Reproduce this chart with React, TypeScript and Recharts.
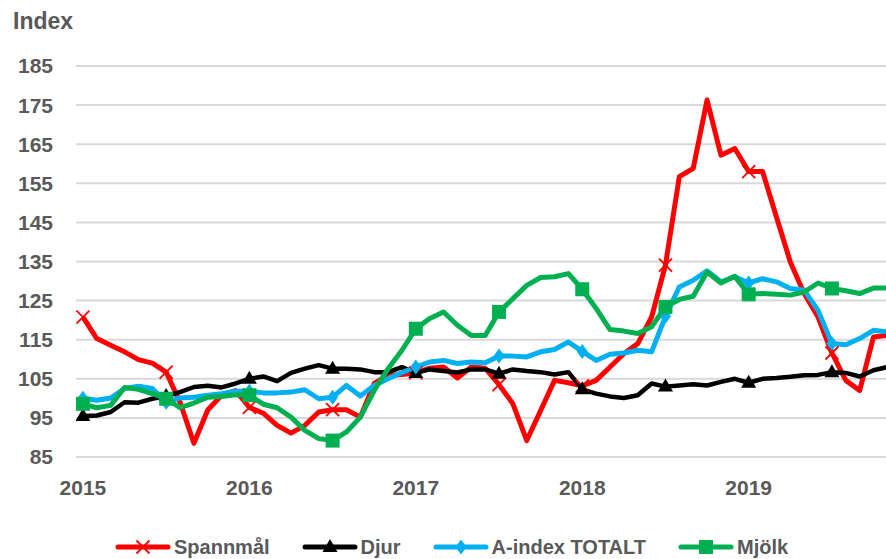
import React from 'react';
import { LineChart, Line, XAxis, YAxis, CartesianGrid, Legend } from 'recharts';

// tick labels
const years = ['2015', '2016', '2017', '2018', '2019'];
const yTicks = [85, 95, 105, 115, 125, 135, 145, 155, 165, 175, 185];

// monthly categories, Jan 2015 .. Nov 2019
const months: string[] = [];
years.forEach((y) => {
  for (let m = 1; m <= 12; m++) months.push(`${y}-${String(m).padStart(2, '0')}`);
});
months.splice(59);

// series values (index)
const spannmal = [
  120.8, 115.3, 113.6, 111.9, 109.9, 109.0, 106.7, 99.0, 88.5, 97.0, 100.8, 102.0,
  97.7, 96.2, 93.1, 91.1, 93.1, 96.5, 97.1, 97.1, 95.2, 103.8, 105.9, 106.1,
  106.5, 107.7, 108.0, 105.2, 108.0, 107.7, 103.5, 98.6, 89.2, 96.9, 104.6, 104.0,
  103.2, 104.6, 108.0, 111.4, 114.0, 120.8, 134.1, 156.7, 158.8, 176.3, 162.2, 163.9,
  158.0, 158.0, 146.4, 134.9, 126.8, 120.8, 111.6, 104.6, 102.0, 115.7, 116.1,
];
const djur = [
  95.5, 95.6, 96.5, 99.0, 98.9, 99.9, 100.6, 101.6, 102.9, 103.2, 102.8, 103.8,
  105.0, 105.6, 104.4, 106.5, 107.6, 108.5, 107.6, 107.6, 107.4, 106.7, 106.7, 108.0,
  106.5, 107.4, 107.0, 106.6, 107.4, 107.4, 106.3, 107.4, 107.0, 106.7, 106.1, 106.7,
  102.3, 101.2, 100.5, 100.1, 100.8, 103.8, 103.0, 103.3, 103.6, 103.3, 104.2, 105.0,
  104.0, 105.0, 105.2, 105.5, 105.9, 106.0, 106.7, 106.5, 105.6, 107.2, 108.0,
];
const aIndex = [
  100.0, 99.5, 100.1, 102.5, 103.1, 102.5, 99.0, 100.1, 100.3, 100.8, 101.2, 101.8,
  101.8, 101.4, 101.4, 101.6, 102.2, 99.9, 100.3, 103.3, 100.6, 103.3, 105.0, 106.6,
  108.0, 109.3, 109.7, 108.9, 109.3, 109.1, 110.8, 110.8, 110.6, 111.9, 112.5, 114.4,
  112.0, 109.7, 111.3, 111.6, 112.3, 111.9, 121.0, 128.5, 130.2, 132.6, 129.8, 131.1,
  129.5, 130.6, 129.8, 128.1, 127.7, 122.5, 114.0, 113.7, 115.3, 117.4, 117.0,
];
const mjolk = [
  98.6, 97.6, 98.2, 102.8, 102.3, 101.2, 99.9, 97.6, 98.8, 100.3, 100.5, 100.9,
  100.8, 98.5, 97.6, 95.2, 91.8, 89.7, 89.2, 91.4, 95.2, 102.0, 107.6, 112.3,
  117.8, 120.4, 122.1, 118.7, 116.1, 116.1, 122.1, 125.5, 128.9, 130.9, 131.1, 131.9,
  127.9, 123.0, 117.6, 117.2, 116.6, 118.3, 123.4, 125.3, 126.1, 132.3, 129.5, 131.2,
  126.6, 126.8, 126.6, 126.4, 127.2, 129.5, 128.1, 127.5, 126.8, 128.2, 128.2,
];

const data = months.map((month, i) => ({
  i,
  month,
  spannmal: spannmal[i],
  djur: djur[i],
  aIndex: aIndex[i],
  mjolk: mjolk[i],
}));

type Shape = 'cross' | 'triangle' | 'diamond' | 'square';

const SERIES: { key: string; name: string; color: string; shape: Shape; width: number }[] = [
  { key: 'spannmal', name: 'Spannmål', color: '#FF0000', shape: 'cross', width: 5 },
  { key: 'djur', name: 'Djur', color: '#000000', shape: 'triangle', width: 4.5 },
  { key: 'aIndex', name: 'A-index TOTALT', color: '#00B0F0', shape: 'diamond', width: 5 },
  { key: 'mjolk', name: 'Mjölk', color: '#00B050', shape: 'square', width: 5 },
];

const FONT = '"Liberation Sans", Arial, sans-serif';
const TEXT = '#595959';
const GRID = '#d9d9d9';

const boundaryTicks = months.map((_, i) => i - 0.5).filter((_, i) => i % 2 === 0);
const yearTicks = years.map((_, i) => i * 12);

const Marker = ({ shape, cx, cy, color }: { shape: Shape; cx: number; cy: number; color: string }) => {
  switch (shape) {
    case 'cross':
      return (
        <g stroke={color} strokeWidth={1.8}>
          <line x1={cx - 6.5} y1={cy - 6.5} x2={cx + 6.5} y2={cy + 6.5} />
          <line x1={cx - 6.5} y1={cy + 6.5} x2={cx + 6.5} y2={cy - 6.5} />
        </g>
      );
    case 'triangle':
      return <polygon points={`${cx},${cy - 8} ${cx + 7.5},${cy + 5} ${cx - 7.5},${cy + 5}`} fill={color} />;
    case 'diamond':
      return <polygon points={`${cx},${cy - 7.5} ${cx + 5.5},${cy} ${cx},${cy + 7.5} ${cx - 5.5},${cy}`} fill={color} />;
    default:
      return <rect x={cx - 7} y={cy - 7} width={14} height={14} fill={color} />;
  }
};

const renderLegend = () => (
  <div
    style={{
      display: 'flex',
      alignItems: 'center',
      paddingLeft: 114,
      height: 24,
      fontFamily: FONT,
      fontSize: 20,
      fontWeight: 700,
      color: TEXT,
    }}
  >
    {SERIES.map((s) => (
      <div key={s.key} style={{ display: 'flex', alignItems: 'center', marginRight: 31 }}>
        <svg width={58} height={20}>
          <line x1={4} y1={10} x2={54} y2={10} stroke={s.color} strokeWidth={5} strokeLinecap="round" />
          <Marker shape={s.shape} cx={29} cy={10} color={s.color} />
        </svg>
        <span style={{ marginLeft: 2 }}>{s.name}</span>
      </div>
    ))}
  </div>
);

export default function App() {
  return (
    <div style={{ position: 'absolute', left: 0, top: 0, width: 886, height: 559, background: '#fff' }}>
      <div
        style={{
          position: 'absolute',
          left: 13,
          top: 8,
          fontFamily: FONT,
          fontSize: 23,
          fontWeight: 700,
          color: TEXT,
        }}
      >
        Index
      </div>
      <LineChart width={886} height={559} data={data} margin={{ top: 66, right: 0, bottom: 0, left: 0 }}>
        <CartesianGrid horizontal vertical={false} stroke={GRID} strokeWidth={2} />
        <XAxis
          dataKey="i"
          type="number"
          domain={[-0.5, 57.9]}
          allowDataOverflow
          ticks={boundaryTicks}
          interval={0}
          height={0}
          tick={false}
          tickSize={6}
          tickLine={{ stroke: GRID, strokeWidth: 2 }}
          axisLine={{ stroke: GRID, strokeWidth: 2 }}
        />
        <XAxis
          xAxisId="years"
          dataKey="i"
          type="number"
          domain={[-0.5, 57.9]}
          allowDataOverflow
          ticks={yearTicks}
          interval={0}
          height={78}
          tickLine={false}
          axisLine={false}
          tickMargin={17}
          tickFormatter={(v: number) => years[v / 12]}
          tick={{ fill: TEXT, fontSize: 21, fontWeight: 700, fontFamily: FONT }}
        />
        <YAxis
          domain={[85, 185]}
          ticks={yTicks}
          interval={0}
          width={76}
          axisLine={false}
          tickLine={false}
          tickMargin={17}
          tick={{ fill: TEXT, fontSize: 21, fontWeight: 700, fontFamily: FONT }}
        />
        <Legend verticalAlign="bottom" content={renderLegend} wrapperStyle={{ left: 0, width: 886 }} />
        {SERIES.map((s) => (
          <Line
            key={s.key}
            dataKey={s.key}
            name={s.name}
            type="linear"
            stroke={s.color}
            strokeWidth={s.width}
            strokeLinejoin="round"
            isAnimationActive={false}
            activeDot={false}
            dot={(p: any) =>
              p.index % 6 === 0 && p.cx != null ? (
                <Marker key={`${s.key}-${p.index}`} shape={s.shape} cx={p.cx} cy={p.cy} color={s.color} />
              ) : (
                <g key={`${s.key}-${p.index}`} />
              )
            }
          />
        ))}
      </LineChart>
    </div>
  );
}
